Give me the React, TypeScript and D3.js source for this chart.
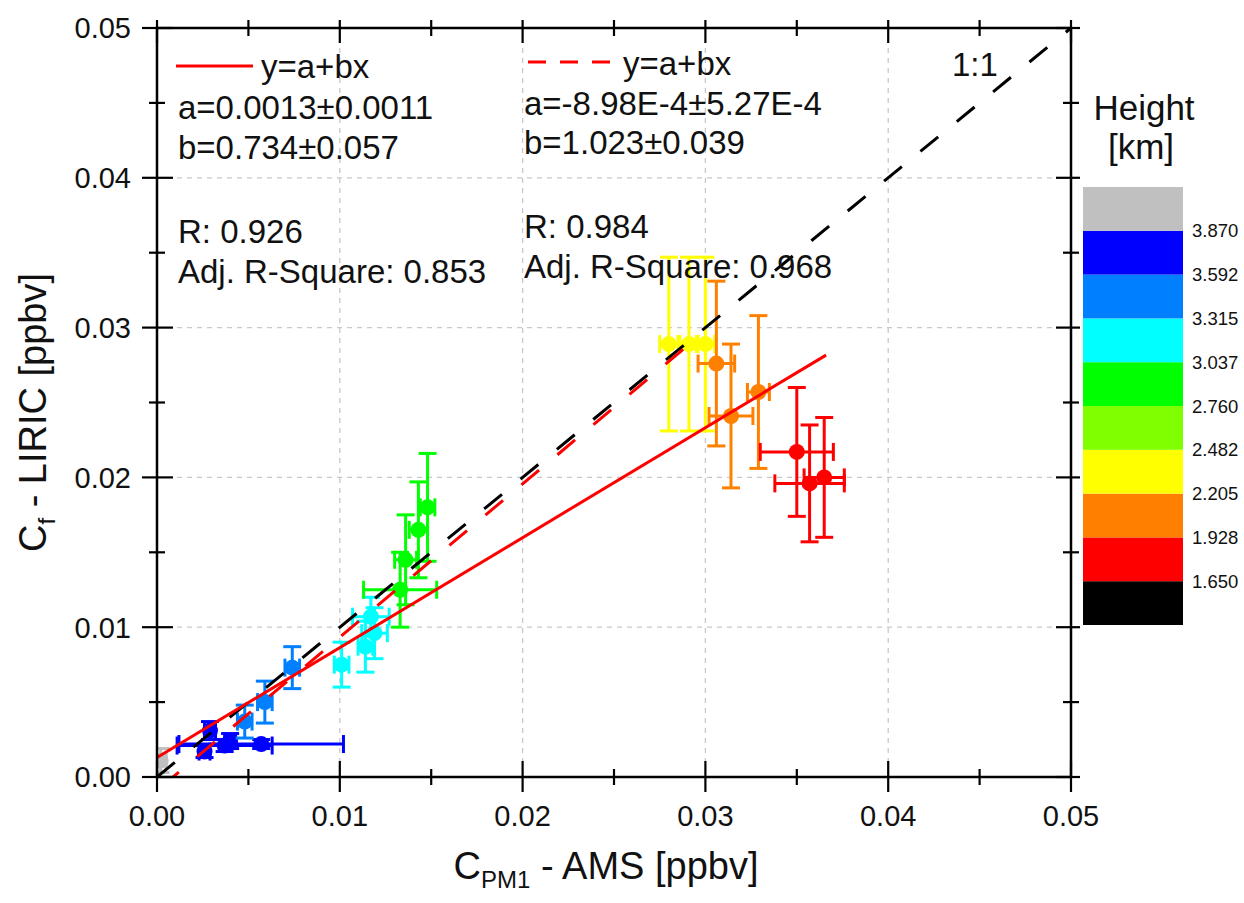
import React from 'react';
import * as d3 from 'd3';

// measurements, one entry per sample (AMS on x, LIRIC on y)
const xVals = [0.0002, 0.0029, 0.0026, 0.0037, 0.0040, 0.0057, 0.0074, 0.0059, 0.0048, 0.0101, 0.0114, 0.0119, 0.0117, 0.0148, 0.0143, 0.0136, 0.0133, 0.0280, 0.0291, 0.0300, 0.0306, 0.0314, 0.0329, 0.0350, 0.0357, 0.0365];
const yVals = [0.0011, 0.0031, 0.0017, 0.0021, 0.0024, 0.0022, 0.0073, 0.0050, 0.0037, 0.0075, 0.0087, 0.0096, 0.0107, 0.0180, 0.0165, 0.0145, 0.0125, 0.0289, 0.0289, 0.0289, 0.0276, 0.0241, 0.0257, 0.0217, 0.0196, 0.0200];
const xErr = [0.0003, 0.0003, 0.0003, 0.0026, 0.0003, 0.0045, 0.0004, 0.0004, 0.0004, 0.0004, 0.0004, 0.0007, 0.0010, 0.0004, 0.0005, 0.0006, 0.0020, 0.0005, 0.0005, 0.0005, 0.0010, 0.0012, 0.0006, 0.0020, 0.0019, 0.0011];
const yErr = [0.0008, 0.0006, 0.0004, 0.0004, 0.0005, 0.0003, 0.0014, 0.0014, 0.0011, 0.0015, 0.0017, 0.0017, 0.0013, 0.0036, 0.0032, 0.0030, 0.0025, 0.0058, 0.0058, 0.0058, 0.0055, 0.0048, 0.0051, 0.0043, 0.0039, 0.0040];
const heights = [3.95, 3.75, 3.72, 3.70, 3.68, 3.65, 3.45, 3.42, 3.40, 3.20, 3.18, 3.16, 3.14, 2.95, 2.92, 2.90, 2.88, 2.30, 2.28, 2.26, 2.05, 2.02, 2.00, 1.80, 1.78, 1.76];

// colour bar
const heightBreaks = [1.650, 1.928, 2.205, 2.482, 2.760, 3.037, 3.315, 3.592, 3.870];
const heightColors = ['#000000', '#FF0000', '#FF8000', '#FFFF00', '#80FF00', '#00FF00', '#00FFFF', '#0080FF', '#0000FF', '#C0C0C0'];

// fits
const fitAll = { a: 0.0013, b: 0.734, x0: 0, x1: 0.0366 };
const fitDash = { a: -8.98e-4, b: 1.023, x0: 0.00088, x1: 0.0296 };
const oneToOne = [0, 0.05];

const leftText = ['a=0.0013\u00b10.0011', 'b=0.734\u00b10.057', 'R: 0.926', 'Adj. R-Square: 0.853'];
const rightText = ['a=-8.98E-4\u00b15.27E-4', 'b=1.023\u00b10.039', 'R: 0.984', 'Adj. R-Square: 0.968'];

const majorTicks = [0, 0.01, 0.02, 0.03, 0.04, 0.05];
const minorTicks = [0.005, 0.015, 0.025, 0.035, 0.045];

export default function App() {
  const W = 1244, H = 903;
  const left = 157, right = 1071, top = 28, bottom = 777;
  const font = 'Liberation Sans, Arial, sans-serif';

  const x = d3.scaleLinear().domain([0, 0.05]).range([left, right]);
  const y = d3.scaleLinear().domain([0, 0.05]).range([bottom, top]);
  const color = d3.scaleThreshold<number, string>().domain(heightBreaks).range(heightColors);

  const fitPath = (f) => d3.line()([[x(f.x0), y(f.a + f.b * f.x0)], [x(f.x1), y(f.a + f.b * f.x1)]]);
  const diag = d3.line()(oneToOne.map(v => [x(v), y(v)]));
  // keep red dashes in phase with the black 1:1 dashes
  const slopeLen = Math.hypot(x(0.01) - x(0), y(0) - y(0.01)) / (x(0.01) - x(0));
  const redOffset = (x(fitDash.x0) - x(0)) / slopeLen;

  // colour bar: gray on top, black at bottom
  const barTop = 187, barBottom = 625, barX = 1083, barW = 100;
  const band = d3.scaleBand<number>().domain(d3.range(heightColors.length)).range([barBottom, barTop]);

  const cap = 9;

  return (
    <svg width={W} height={H} style={{ display: 'block', position: 'absolute', left: 0, top: 0, background: '#fff' }} fontFamily={font}>
      <defs>
        <clipPath id="plotClip">
          <rect x={left} y={top} width={right - left} height={bottom - top} />
        </clipPath>
      </defs>

      {/* grid */}
      {majorTicks.slice(1, -1).map(t => (
        <g key={'g' + t} stroke="#c8c8c8" strokeWidth={1.3} strokeDasharray="5,5">
          <line x1={x(t)} x2={x(t)} y1={top} y2={bottom} />
          <line x1={left} x2={right} y1={y(t)} y2={y(t)} />
        </g>
      ))}

      {/* error bars and points */}
      <g clipPath="url(#plotClip)">
        {xVals.map((xv, i) => {
          const c = color(heights[i]);
          const px = x(xv), py = y(yVals[i]);
          const xl = x(xv - xErr[i]), xr = x(xv + xErr[i]);
          const yt = y(yVals[i] + yErr[i]), yb = y(yVals[i] - yErr[i]);
          return (
            <g key={i} stroke={c} strokeWidth={3} fill={c}>
              <line x1={xl} x2={xr} y1={py} y2={py} />
              <line x1={xl} x2={xl} y1={py - cap} y2={py + cap} />
              <line x1={xr} x2={xr} y1={py - cap} y2={py + cap} />
              <line x1={px} x2={px} y1={yt} y2={yb} />
              <line x1={px - cap} x2={px + cap} y1={yt} y2={yt} />
              <line x1={px - cap} x2={px + cap} y1={yb} y2={yb} />
              <circle cx={px} cy={py} r={8} stroke="none" />
            </g>
          );
        })}
      </g>

      {/* lines */}
      <path d={diag} stroke="#000" strokeWidth={3} strokeDasharray="23,24" fill="none" />
      <path d={fitPath(fitDash)} stroke="#FF0000" strokeWidth={3} strokeDasharray="23,24" strokeDashoffset={redOffset + 3} fill="none" />
      <path d={fitPath(fitAll)} stroke="#FF0000" strokeWidth={3} fill="none" />

      {/* frame and ticks */}
      <rect x={left} y={top} width={right - left} height={bottom - top} fill="none" stroke="#000" strokeWidth={2.5} />
      <g stroke="#000" strokeWidth={2.2}>
        {majorTicks.map(t => (
          <g key={'M' + t}>
            <line x1={x(t)} x2={x(t)} y1={bottom - 16} y2={bottom + 15} />
            <line x1={x(t)} x2={x(t)} y1={top - 8} y2={top + 15} />
            <line x1={left - 15} x2={left + 16} y1={y(t)} y2={y(t)} />
            <line x1={right - 15} x2={right + 9} y1={y(t)} y2={y(t)} />
          </g>
        ))}
        {minorTicks.map(t => (
          <g key={'m' + t}>
            <line x1={x(t)} x2={x(t)} y1={bottom - 8} y2={bottom + 8} />
            <line x1={x(t)} x2={x(t)} y1={top - 8} y2={top + 8} />
            <line x1={left - 8} x2={left + 8} y1={y(t)} y2={y(t)} />
            <line x1={right - 8} x2={right + 8} y1={y(t)} y2={y(t)} />
          </g>
        ))}
      </g>

      {/* tick labels */}
      <g fontSize={29} fill="#111">
        {majorTicks.map(t => (
          <text key={'xl' + t} x={x(t)} y={826} textAnchor="middle">{t.toFixed(2)}</text>
        ))}
        {majorTicks.map(t => (
          <text key={'yl' + t} x={131} y={y(t)} dy="0.36em" textAnchor="end">{t.toFixed(2)}</text>
        ))}
      </g>

      {/* axis titles */}
      <text x={(left + right) / 2 - 8} y={879} textAnchor="middle" fontSize={38} fill="#111">
        C<tspan fontSize={24} dy={9}>PM1</tspan><tspan dy={-9}> - AMS [ppbv]</tspan>
      </text>
      <text transform={`translate(46,${(top + bottom) / 2 + 10}) rotate(-90)`} textAnchor="middle" fontSize={38} fill="#111">
        C<tspan fontSize={24} dy={9}>f</tspan><tspan dy={-9}> - LIRIC [ppbv]</tspan>
      </text>

      {/* fit annotations */}
      <g fontSize={33} fill="#111">
        <line x1={176} x2={253} y1={66} y2={66} stroke="#FF0000" strokeWidth={3} />
        <text x={261} y={78}>y=a+bx</text>
        <text x={178} y={119}>{leftText[0]}</text>
        <text x={178} y={159}>{leftText[1]}</text>
        <text x={178} y={243}>{leftText[2]}</text>
        <text x={178} y={283}>{leftText[3]}</text>

        <line x1={528} x2={614} y1={62} y2={62} stroke="#FF0000" strokeWidth={3} strokeDasharray="18,14" />
        <text x={623} y={75}>y=a+bx</text>
        <text x={524} y={115}>{rightText[0]}</text>
        <text x={524} y={154}>{rightText[1]}</text>
        <text x={524} y={238}>{rightText[2]}</text>
        <text x={524} y={278}>{rightText[3]}</text>

        <text x={952} y={76}>1:1</text>
      </g>

      {/* colour bar */}
      <text x={1144} y={120} textAnchor="middle" fontSize={35} fill="#111">Height</text>
      <text x={1141} y={159} textAnchor="middle" fontSize={35} fill="#111">[km]</text>
      {heightColors.map((c, i) => (
        <rect key={c} x={barX} y={band(i)} width={barW} height={band.bandwidth()} fill={c} />
      ))}
      <g fontSize={18.5} fill="#111">
        {heightBreaks.map((b, i) => (
          <text key={b} x={barX + barW + 9} y={band(i)} dy="0.36em">{b.toFixed(3)}</text>
        ))}
      </g>
    </svg>
  );
}
